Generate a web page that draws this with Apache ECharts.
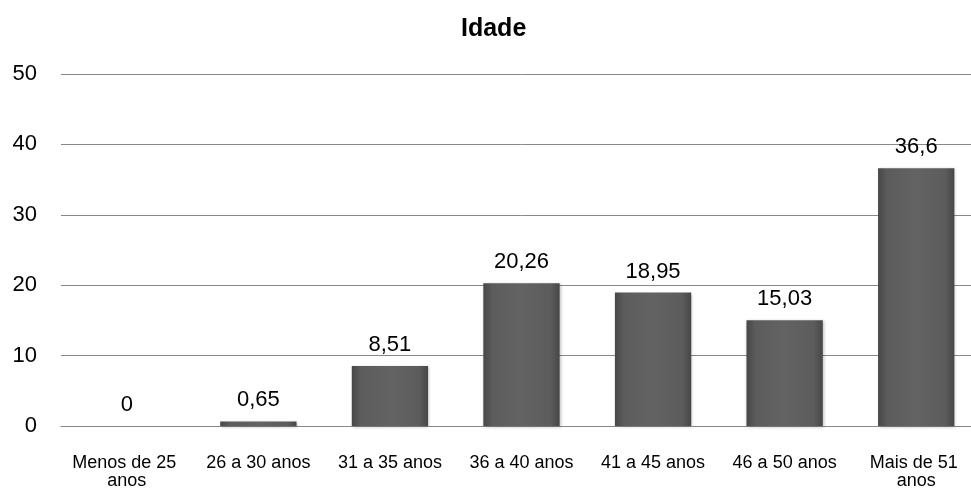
<!DOCTYPE html>
<html>
<head>
<meta charset="utf-8">
<script src="https://cdn.jsdelivr.net/npm/echarts@6/dist/echarts.min.js"></script>
<style>
  html, body { margin: 0; padding: 0; background: #fff; }
  #wrap { width: 971px; height: 490px; overflow: hidden; }
  /* 绘图区右侧在原图中被裁切，所以画布比外框略宽 */
  #app { width: 982px; height: 490px; }
</style>
</head>
<body>
<div id="wrap"><div id="app"></div></div>
<script>
// 数据
const categories = ['Menos de 25 anos', '26 a 30 anos', '31 a 35 anos', '36 a 40 anos', '41 a 45 anos', '46 a 50 anos', 'Mais de 51 anos'];
const values = [0, 0.65, 8.51, 20.26, 18.95, 15.03, 36.6];
const yTicks = [0, 10, 20, 30, 40, 50];

const font = 'Liberation Sans, Arial, sans-serif';

// 柱子的渐变色
const barColor = new echarts.graphic.LinearGradient(0, 0, 1, 0, [
    { offset: 0, color: '#474747' },
    { offset: 0.12, color: '#5c5c5c' },
    { offset: 0.5, color: '#636363' },
    { offset: 0.88, color: '#5c5c5c' },
    { offset: 1, color: '#474747' }
]);

const myChart = echarts.init(document.getElementById('app'));
myChart.setOption({
    animation: false,
    title: {
        text: 'Idade',
        left: 456,
        top: 12,
        textStyle: { fontFamily: font, fontSize: 25, fontWeight: 'bold', color: '#000' }
    },
    grid: { left: 61, right: 0, top: 74, bottom: 61 },
    xAxis: {
        type: 'category',
        data: categories,
        axisLine: { lineStyle: { color: '#888', width: 1 } },
        axisTick: { show: false },
        axisLabel: {
            interval: 0,
            margin: 28,
            width: 115,
            overflow: 'break',
            fontFamily: font,
            fontSize: 18,
            lineHeight: 18,
            color: '#000'
        }
    },
    yAxis: {
        type: 'value',
        min: yTicks[0],
        max: yTicks[yTicks.length - 1],
        interval: 10,
        axisLine: { show: false },
        axisTick: { show: false },
        splitLine: { lineStyle: { color: '#888', width: 1 } },
        axisLabel: { margin: 24, fontFamily: font, fontSize: 22, color: '#000' }
    },
    series: [{
        type: 'bar',
        data: values,
        barWidth: '58%',
        itemStyle: {
            color: barColor,
            shadowColor: 'rgba(0,0,0,0.25)',
            shadowBlur: 3,
            shadowOffsetX: 1,
            shadowOffsetY: 1
        },
        label: {
            show: true,
            position: 'top',
            distance: 10,
            fontFamily: font,
            fontSize: 22,
            color: '#000',
            formatter: function(p) {
                return String(p.value).replace('.', ',');
            }
        }
    }]
});
</script>
</body>
</html>
